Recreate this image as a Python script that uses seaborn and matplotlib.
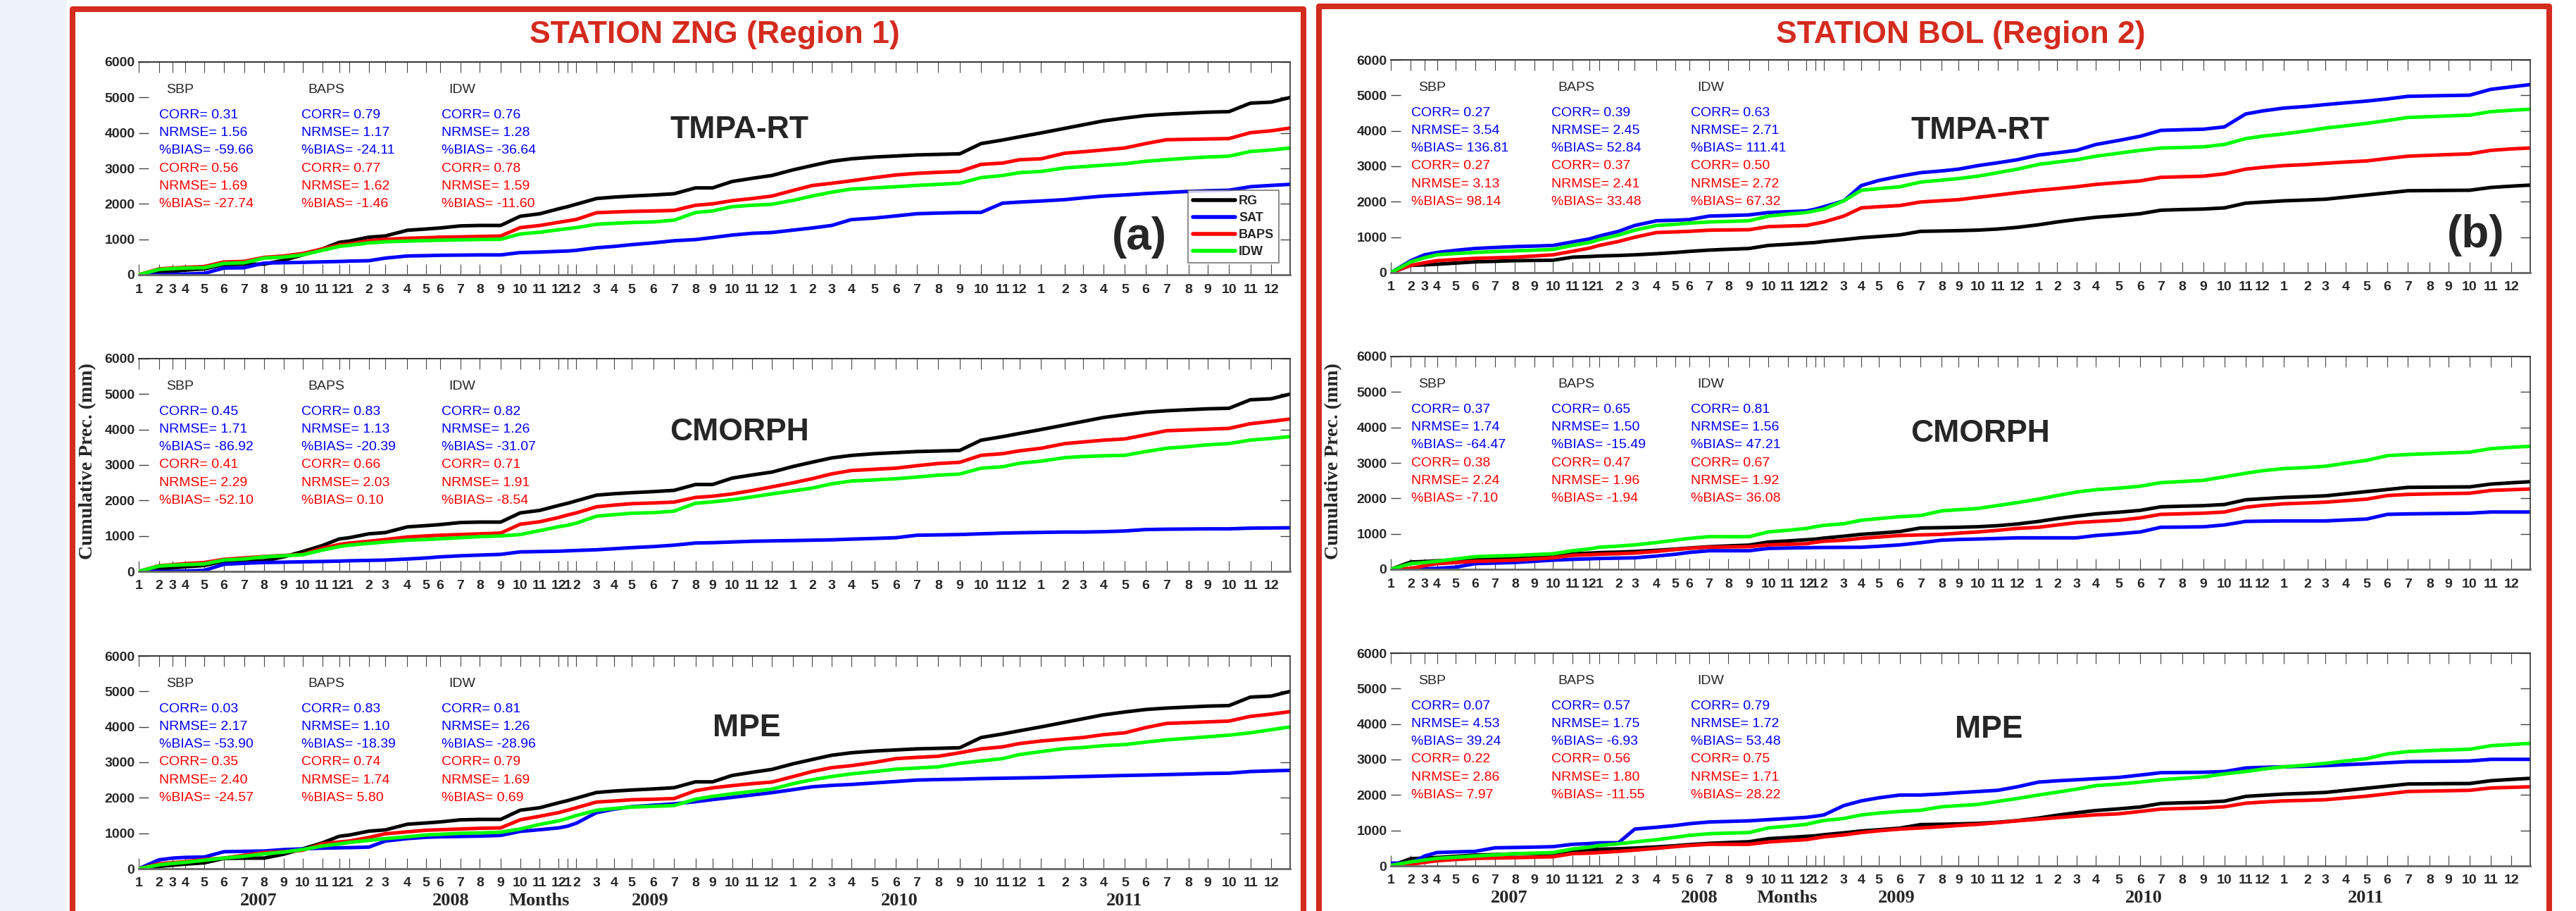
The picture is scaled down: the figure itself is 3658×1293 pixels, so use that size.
import matplotlib
matplotlib.use("Agg")
import matplotlib.pyplot as plt
import seaborn as sns
import pandas as pd
from matplotlib.patches import Rectangle
from matplotlib.lines import Line2D

# ---------------------------------------------------------------- data
# record index at which every month starts (Jan 2007 .. Dec 2011), plus record end
month_start = [0, 32, 54, 74, 104, 135, 167, 199, 230, 260, 291, 318,
               334, 365, 391, 426, 456, 478, 510, 541, 574, 605, 636, 666,
               680, 694, 726, 754, 782, 816, 849, 883, 910, 941, 973, 1004,
               1038, 1068, 1099, 1130, 1167, 1201, 1234, 1268, 1302, 1336, 1370, 1397,
               1431, 1469, 1498, 1530, 1564, 1597, 1630, 1665, 1695, 1729, 1763, 1796]
record_end = 1826
month_labels = ["1", "2", "3", "4", "5", "6", "7", "8", "9", "10", "11", "12"] * 5
years = ["2007", "2008", "2009", "2010", "2011"]
series_names = ["RG", "SAT", "BAPS", "IDW"]
products = ["TMPA-RT", "CMORPH", "MPE"]
methods = ["SBP", "BAPS", "IDW"]

# station ZNG (region 1), cumulative precipitation (mm) at each month start + end
zng_rg = [0, 66, 100, 130, 166, 290, 298, 300, 410, 560, 728, 915,
          950, 1060, 1095, 1255, 1291, 1320, 1378, 1391, 1391, 1650, 1720, 1860,
          1920, 1990, 2150, 2190, 2220, 2250, 2285, 2450, 2450, 2630, 2720, 2800,
          2960, 3080, 3200, 3270, 3320, 3350, 3380, 3395, 3411, 3700, 3800, 3890,
          4000, 4130, 4230, 4340, 4420, 4490, 4530, 4560, 4585, 4600, 4840, 4868,
          5000]
zng_tmpa_sat = [0, 0, 10, 20, 40, 190, 198, 331, 340, 350, 364, 375,
                385, 397, 470, 530, 540, 550, 555, 560, 560, 626, 640, 662,
                670, 690, 762, 800, 850, 900, 960, 993, 1050, 1120, 1170, 1192,
                1260, 1320, 1391, 1556, 1600, 1660, 1722, 1740, 1755, 1760, 2020, 2050,
                2080, 2119, 2170, 2220, 2252, 2290, 2320, 2351, 2370, 2384, 2484, 2520,
                2550]
zng_tmpa_baps = [0, 166, 190, 210, 232, 360, 377, 490, 530, 600, 728, 840,
                 870, 960, 1000, 1030, 1045, 1060, 1070, 1080, 1093, 1330, 1390, 1480,
                 1520, 1560, 1750, 1770, 1788, 1800, 1815, 1960, 2000, 2090, 2150, 2219,
                 2380, 2517, 2580, 2649, 2740, 2815, 2860, 2890, 2914, 3113, 3150, 3245,
                 3270, 3430, 3470, 3520, 3576, 3700, 3808, 3820, 3830, 3841, 4007, 4060,
                 4139]
zng_tmpa_idw = [0, 150, 175, 190, 200, 320, 340, 470, 500, 560, 690, 800,
                830, 900, 930, 950, 965, 975, 985, 995, 1000, 1150, 1200, 1270,
                1300, 1330, 1424, 1450, 1475, 1490, 1540, 1755, 1800, 1920, 1960, 1987,
                2100, 2219, 2330, 2417, 2450, 2484, 2520, 2550, 2583, 2740, 2800, 2880,
                2914, 3013, 3050, 3090, 3130, 3200, 3245, 3290, 3320, 3345, 3477, 3520,
                3576]
zng_cmorph_sat = [0, 0, 0, 10, 30, 200, 230, 250, 260, 270, 280, 290,
                  300, 310, 320, 350, 380, 410, 440, 460, 480, 550, 560, 570,
                  580, 590, 610, 640, 670, 700, 740, 800, 810, 830, 850, 860,
                  870, 880, 890, 910, 930, 950, 1020, 1030, 1040, 1060, 1080, 1090,
                  1100, 1110, 1110, 1120, 1140, 1180, 1190, 1195, 1200, 1200, 1220, 1225,
                  1230]
zng_cmorph_baps = [0, 160, 190, 220, 250, 340, 380, 420, 450, 480, 650, 760,
                   800, 850, 900, 970, 1000, 1020, 1040, 1060, 1080, 1330, 1400, 1520,
                   1590, 1650, 1822, 1870, 1910, 1930, 1954, 2086, 2120, 2185, 2280, 2383,
                   2500, 2614, 2750, 2845, 2880, 2911, 2980, 3043, 3076, 3274, 3320, 3400,
                   3472, 3604, 3650, 3700, 3736, 3850, 3967, 3990, 4010, 4033, 4165, 4230,
                   4297]
zng_cmorph_idw = [0, 150, 175, 190, 210, 320, 350, 410, 440, 470, 600, 700,
                  740, 790, 830, 880, 900, 920, 950, 980, 1000, 1040, 1150, 1261,
                  1300, 1360, 1558, 1600, 1640, 1657, 1700, 1921, 1960, 2020, 2100, 2185,
                  2270, 2350, 2470, 2548, 2580, 2614, 2660, 2713, 2746, 2911, 2950, 3050,
                  3109, 3208, 3240, 3260, 3274, 3380, 3472, 3520, 3570, 3604, 3703, 3750,
                  3802]
zng_mpe_sat = [0, 250, 300, 320, 330, 480, 490, 500, 540, 560, 580, 590,
               595, 610, 780, 850, 887, 900, 910, 920, 940, 1053, 1100, 1152,
               1200, 1284, 1582, 1680, 1750, 1790, 1830, 1890, 1950, 2012, 2080, 2145,
               2230, 2310, 2350, 2376, 2420, 2460, 2500, 2515, 2525, 2542, 2552, 2560,
               2570, 2588, 2600, 2615, 2630, 2641, 2655, 2670, 2685, 2694, 2741, 2760,
               2774]
zng_mpe_baps = [0, 140, 170, 200, 260, 300, 380, 457, 480, 520, 700, 755,
                780, 880, 986, 1040, 1086, 1100, 1120, 1140, 1152, 1380, 1480, 1582,
                1650, 1720, 1880, 1910, 1946, 1960, 1979, 2200, 2280, 2343, 2400, 2443,
                2600, 2741, 2850, 2906, 3000, 3105, 3140, 3171, 3270, 3380, 3436, 3530,
                3601, 3660, 3701, 3780, 3833, 3980, 4098, 4120, 4140, 4164, 4296, 4360,
                4429]
zng_mpe_idw = [0, 110, 150, 180, 240, 300, 350, 420, 470, 540, 640, 700,
               740, 800, 850, 900, 953, 970, 1000, 1010, 1030, 1119, 1250, 1350,
               1420, 1500, 1648, 1700, 1740, 1760, 1781, 1960, 2040, 2112, 2180, 2244,
               2400, 2509, 2600, 2674, 2740, 2807, 2840, 2873, 2972, 3040, 3105, 3220,
               3303, 3390, 3420, 3470, 3502, 3570, 3634, 3680, 3720, 3767, 3833, 3920,
               3998]

# station BOL (region 2)
bol_rg = [0, 205, 220, 238, 270, 305, 320, 338, 345, 351, 437, 455,
          470, 485, 503, 535, 569, 600, 636, 660, 682, 768, 800, 834,
          850, 880, 933, 986, 1020, 1066, 1165, 1175, 1185, 1200, 1231, 1278,
          1350, 1430, 1500, 1562, 1610, 1662, 1761, 1780, 1794, 1827, 1960, 1990,
          2026, 2050, 2072, 2130, 2191, 2250, 2310, 2315, 2320, 2324, 2403, 2440,
          2469]
bol_tmpa_sat = [0, 338, 503, 569, 630, 682, 710, 735, 750, 768, 867, 950,
                1033, 1165, 1331, 1463, 1480, 1496, 1595, 1610, 1629, 1695, 1720, 1741,
                1790, 1860, 2026, 2456, 2600, 2721, 2820, 2870, 2919, 3019, 3100, 3184,
                3317, 3380, 3449, 3615, 3730, 3846, 4012, 4030, 4045, 4111, 4475, 4560,
                4641, 4690, 4740, 4790, 4839, 4900, 4972, 4985, 4995, 5005, 5170, 5240,
                5303]
bol_tmpa_baps = [0, 205, 280, 338, 370, 404, 420, 437, 470, 503, 602, 690,
                 768, 880, 1000, 1132, 1150, 1165, 1198, 1205, 1211, 1298, 1315, 1331,
                 1380, 1430, 1595, 1827, 1860, 1893, 1993, 2030, 2059, 2125, 2190, 2257,
                 2324, 2370, 2423, 2489, 2540, 2588, 2688, 2705, 2721, 2787, 2919, 2970,
                 3019, 3050, 3085, 3120, 3151, 3220, 3284, 3310, 3330, 3350, 3449, 3490,
                 3515]
bol_tmpa_idw = [0, 305, 420, 503, 540, 569, 595, 616, 635, 655, 768, 850,
                933, 1060, 1198, 1331, 1365, 1397, 1430, 1445, 1463, 1595, 1650, 1695,
                1745, 1794, 2026, 2324, 2370, 2423, 2555, 2610, 2655, 2721, 2820, 2919,
                3052, 3120, 3184, 3284, 3370, 3449, 3515, 3530, 3548, 3615, 3780, 3850,
                3912, 4000, 4078, 4140, 4210, 4290, 4376, 4400, 4420, 4442, 4541, 4580,
                4608]
bol_cmorph_sat = [0, 0, 10, 26, 60, 159, 175, 192, 225, 258, 280, 295,
                  305, 315, 324, 375, 424, 475, 523, 523, 523, 589, 600, 609,
                  612, 615, 618, 622, 650, 688, 750, 821, 840, 854, 870, 887,
                  887, 887, 887, 953, 1000, 1053, 1185, 1190, 1198, 1251, 1350, 1357,
                  1364, 1364, 1364, 1390, 1417, 1549, 1562, 1570, 1575, 1582, 1615, 1615,
                  1615]
bol_cmorph_baps = [0, 26, 100, 159, 190, 225, 240, 258, 290, 324, 391, 410,
                   424, 440, 457, 505, 556, 590, 622, 630, 636, 688, 705, 722,
                   760, 790, 821, 874, 910, 953, 970, 986, 1020, 1053, 1100, 1152,
                   1185, 1250, 1317, 1350, 1384, 1450, 1549, 1565, 1582, 1615, 1748, 1800,
                   1847, 1870, 1893, 1935, 1979, 2079, 2112, 2125, 2135, 2145, 2224, 2245,
                   2264]
bol_cmorph_idw = [0, 159, 190, 225, 290, 357, 375, 391, 415, 437, 523, 575,
                  622, 655, 688, 755, 821, 870, 920, 920, 920, 1053, 1100, 1152,
                  1200, 1240, 1284, 1384, 1430, 1483, 1516, 1648, 1680, 1715, 1800, 1880,
                  1979, 2080, 2178, 2244, 2290, 2343, 2443, 2475, 2509, 2608, 2708, 2780,
                  2840, 2870, 2906, 2990, 3072, 3204, 3237, 3260, 3280, 3303, 3403, 3440,
                  3469]
bol_mpe_sat = [79, 79, 278, 377, 395, 410, 510, 520, 530, 543, 609, 630,
               650, 655, 1039, 1090, 1139, 1190, 1238, 1255, 1271, 1304, 1337, 1370,
               1400, 1437, 1701, 1834, 1920, 1999, 1999, 2030, 2065, 2098, 2132, 2231,
               2363, 2400, 2429, 2460, 2496, 2562, 2628, 2635, 2641, 2661, 2761, 2780,
               2794, 2810, 2827, 2855, 2880, 2910, 2939, 2945, 2950, 2959, 3005, 3005,
               3005]
bol_mpe_baps = [0, 46, 100, 146, 180, 212, 222, 232, 245, 258, 344, 360,
                377, 410, 444, 495, 543, 575, 609, 609, 609, 675, 710, 741,
                780, 820, 874, 940, 990, 1039, 1070, 1106, 1140, 1172, 1220, 1271,
                1317, 1360, 1403, 1440, 1470, 1536, 1602, 1620, 1635, 1668, 1768, 1800,
                1834, 1850, 1867, 1915, 1966, 2032, 2099, 2110, 2120, 2132, 2198, 2215,
                2231]
bol_mpe_idw = [13, 113, 165, 212, 245, 278, 310, 344, 360, 377, 477, 530,
               576, 625, 675, 740, 808, 860, 907, 925, 940, 1072, 1120, 1172,
               1230, 1280, 1337, 1437, 1490, 1536, 1569, 1668, 1700, 1734, 1820, 1900,
               1999, 2080, 2165, 2264, 2310, 2363, 2429, 2470, 2509, 2595, 2661, 2730,
               2794, 2845, 2893, 2960, 3025, 3158, 3224, 3250, 3270, 3290, 3389, 3425,
               3456]

# statistics printed in each panel: [CORR, NRMSE, %BIAS] for SBP, BAPS, IDW
zng_tmpa_stats_blue = [[0.31, 1.56, -59.66], [0.79, 1.17, -24.11], [0.76, 1.28, -36.64]]
zng_tmpa_stats_red = [[0.56, 1.69, -27.74], [0.77, 1.62, -1.46], [0.78, 1.59, -11.60]]
zng_cmorph_stats_blue = [[0.45, 1.71, -86.92], [0.83, 1.13, -20.39], [0.82, 1.26, -31.07]]
zng_cmorph_stats_red = [[0.41, 2.29, -52.10], [0.66, 2.03, 0.10], [0.71, 1.91, -8.54]]
zng_mpe_stats_blue = [[0.03, 2.17, -53.90], [0.83, 1.10, -18.39], [0.81, 1.26, -28.96]]
zng_mpe_stats_red = [[0.35, 2.40, -24.57], [0.74, 1.74, 5.80], [0.79, 1.69, 0.69]]
bol_tmpa_stats_blue = [[0.27, 3.54, 136.81], [0.39, 2.45, 52.84], [0.63, 2.71, 111.41]]
bol_tmpa_stats_red = [[0.27, 3.13, 98.14], [0.37, 2.41, 33.48], [0.50, 2.72, 67.32]]
bol_cmorph_stats_blue = [[0.37, 1.74, -64.47], [0.65, 1.50, -15.49], [0.81, 1.56, 47.21]]
bol_cmorph_stats_red = [[0.38, 2.24, -7.10], [0.47, 1.96, -1.94], [0.67, 1.92, 36.08]]
bol_mpe_stats_blue = [[0.07, 4.53, 39.24], [0.57, 1.75, -6.93], [0.79, 1.72, 53.48]]
bol_mpe_stats_red = [[0.22, 2.86, 7.97], [0.56, 1.80, -11.55], [0.75, 1.71, 28.22]]

# ---------------------------------------------------------------- style
sns.set_style("white")
plt.rcParams["font.family"] = ["Liberation Sans", "DejaVu Sans"]
palette = {"RG": "#000000", "SAT": "#0000ff", "BAPS": "#ff0000", "IDW": "#00ff00"}
box_red = "#d42b1f"
serif = ["Liberation Serif", "DejaVu Serif"]

x_vals = month_start + [record_end]

stations = {
    "ZNG": {"rg": zng_rg,
            "TMPA-RT": (zng_tmpa_sat, zng_tmpa_baps, zng_tmpa_idw, zng_tmpa_stats_blue, zng_tmpa_stats_red),
            "CMORPH": (zng_cmorph_sat, zng_cmorph_baps, zng_cmorph_idw, zng_cmorph_stats_blue, zng_cmorph_stats_red),
            "MPE": (zng_mpe_sat, zng_mpe_baps, zng_mpe_idw, zng_mpe_stats_blue, zng_mpe_stats_red)},
    "BOL": {"rg": bol_rg,
            "TMPA-RT": (bol_tmpa_sat, bol_tmpa_baps, bol_tmpa_idw, bol_tmpa_stats_blue, bol_tmpa_stats_red),
            "CMORPH": (bol_cmorph_sat, bol_cmorph_baps, bol_cmorph_idw, bol_cmorph_stats_blue, bol_cmorph_stats_red),
            "MPE": (bol_mpe_sat, bol_mpe_baps, bol_mpe_idw, bol_mpe_stats_blue, bol_mpe_stats_red)},
}

W, H = 3658, 1293
fig = plt.figure(figsize=(W / 100, H / 100), dpi=100)

# faint tint at the far left edge
fig.add_artist(Rectangle((0, 0), 95 / W, 1, transform=fig.transFigure,
                         facecolor="#eef2f9", edgecolor="none", zorder=0))

# panel geometry in pixels: (station, region, left, width, top of each row)
columns = [("ZNG", "Region 1", 197, 1635, [88, 509, 931]),
           ("BOL", "Region 2", 1975, 1618, [85, 506, 927])]
panel_h = 302
label_pos = {("ZNG", "TMPA-RT"): (0.522, 0.68), ("ZNG", "CMORPH"): (0.522, 0.653),
             ("ZNG", "MPE"): (0.528, 0.659), ("BOL", "TMPA-RT"): (0.517, 0.666),
             ("BOL", "CMORPH"): (0.517, 0.639), ("BOL", "MPE"): (0.525, 0.642)}
stat_rows = ["CORR", "NRMSE", "%BIAS"]

for ci, (code, region, left, width, tops) in enumerate(columns):
    st = stations[code]
    for ri, prod in enumerate(products):
        sat, baps, idw, s_blue, s_red = st[prod]
        ax = fig.add_axes([left / W, 1 - (tops[ri] + panel_h) / H, width / W, panel_h / H])
        df = pd.DataFrame({
            "x": x_vals * 4,
            "value": st["rg"] + sat + baps + idw,
            "series": sum([[n] * len(x_vals) for n in series_names], []),
        })
        sns.lineplot(data=df, x="x", y="value", hue="series", hue_order=series_names,
                     palette=palette, linewidth=3.6, legend=False, ax=ax, sort=False)
        ax.set_xlim(0, record_end)
        ax.set_ylim(0, 6000)
        ax.set_xlabel("")
        ax.set_ylabel("")
        ax.set_yticks(range(0, 6001, 1000))
        ax.set_yticklabels([str(v) for v in range(0, 6001, 1000)], fontweight="bold", fontsize=14)
        ax.set_xticks(month_start)
        ax.set_xticklabels(month_labels, fontweight="bold", fontsize=14)
        ax.tick_params(axis="x", direction="in", length=11, width=0.8, color="#444444",
                       top=True, bottom=True, pad=9)
        ax.tick_params(axis="y", direction="in", length=10, width=1.0, color="#444444",
                       left=True, right=True, pad=4)
        ax.spines["left"].set_visible(False)
        ax.spines["top"].set_color("#333333")
        ax.spines["top"].set_linewidth(1.4)
        ax.spines["bottom"].set_color("#666666")
        ax.spines["bottom"].set_linewidth(2.0)
        ax.spines["right"].set_color("#333333")
        ax.spines["right"].set_linewidth(1.2)

        # statistics block: x in axes fraction, y in data units
        tr = ax.get_yaxis_transform()
        for mi, m in enumerate(methods):
            hx = [0.024, 0.147, 0.269][mi]
            sx = [0.018, 0.141, 0.263][mi]
            ax.text(hx, 5220, m, transform=tr, fontsize=14, va="center", ha="left")
            for k, nm in enumerate(stat_rows):
                ax.text(sx, 4500 - 500 * k, f"{nm}= {s_blue[mi][k]:.2f}", transform=tr,
                        fontsize=14, va="center", ha="left", color="#0000ff")
                ax.text(sx, 3000 - 500 * k, f"{nm}= {s_red[mi][k]:.2f}", transform=tr,
                        fontsize=14, va="center", ha="left", color="#ff0000")

        lx, ly = label_pos[(code, prod)]
        ax.text(lx, ly, prod, transform=ax.transAxes, fontsize=32, fontweight="bold",
                ha="center", va="center")

        if ri == 0:
            ax.text(0.869 if ci == 0 else 0.952, 0.175, "(a)" if ci == 0 else "(b)",
                    transform=ax.transAxes, fontsize=46, fontweight="bold",
                    ha="center", va="center")
        if ri == 0 and ci == 0:
            handles = [Line2D([], [], color=palette[n], lw=4) for n in series_names]
            leg = ax.legend(handles, series_names, loc="lower right",
                            bbox_to_anchor=(0.996, 0.026), frameon=True, fancybox=False,
                            edgecolor="#555555", handlelength=3.3, labelspacing=0.38,
                            borderpad=0.4, handletextpad=0.3,
                            prop={"weight": "bold", "size": 13})
            leg.get_frame().set_linewidth(1.2)
        if ri == 2:
            for yr, fx in zip(years, [0.104, 0.271, 0.444, 0.661, 0.856]):
                ax.text(fx, -0.15, yr, transform=ax.transAxes, fontsize=19,
                        fontweight="bold", family=serif, ha="center", va="center")
            ax.text(0.348, -0.15, "Months", transform=ax.transAxes, fontsize=19,
                    fontweight="bold", family=serif, ha="center", va="center")

    # station frame and heading
    bx0, bx1, btop = [(103, 1851, 13), (1873, 3620, 9)][ci]
    fig.add_artist(Rectangle((bx0 / W, -0.05), (bx1 - bx0) / W, 1.05 - btop / H,
                             transform=fig.transFigure, fill=False, edgecolor=box_red,
                             linewidth=5.8, joinstyle="round", zorder=5))
    fig.text((left + width / 2) / W, 1 - 50 / H, f"STATION {code} ({region})",
             fontsize=32, fontweight="bold", color=box_red, ha="center", va="center")
    ylab_x = [125, 1894][ci]
    fig.text(ylab_x / W, 1 - 655 / H, "Cumulative Prec. (mm)", rotation=90,
             fontsize=20, fontweight="bold", family=serif, ha="center", va="center")

fig.savefig("out.png", dpi=100)
